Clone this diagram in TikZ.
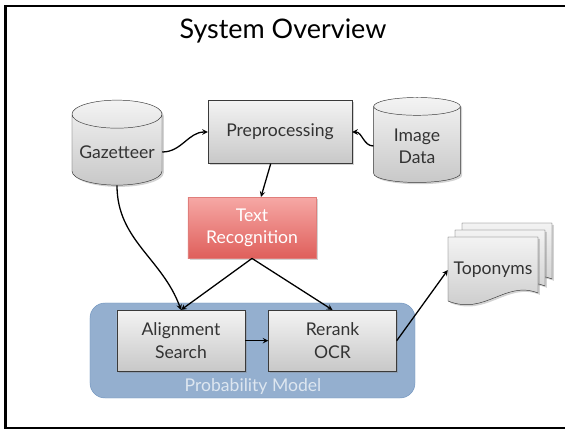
\documentclass[tikz,border=0pt]{standalone}
\usepackage{fontspec}
\setmainfont{Lato}
\usepackage{tikz}
\usetikzlibrary{positioning,shapes.geometric,shadows}
\definecolor{boxtop}{HTML}{F3F3F3}
\definecolor{boxbot}{HTML}{C8C8C8}
\definecolor{boxline}{HTML}{3A3A3A}
\definecolor{recogtop}{HTML}{F6A8A5}
\definecolor{recogbot}{HTML}{DF5F5B}
\definecolor{recogline}{HTML}{E07E7B}
\definecolor{modelfill}{HTML}{94AFCF}
\definecolor{modelline}{HTML}{7094BF}
\definecolor{modeltext}{HTML}{DDE6F0}
\definecolor{label}{HTML}{333333}

\begin{document}
\begin{tikzpicture}[
        x=0.03cm, y=-0.03cm,
        every node/.style={
            align=center,
            text=label,
            font=\fontsize{15}{19}\selectfont,
            inner sep=2pt,
            anchor=center
        },
        box/.style={
            rectangle,
            draw=boxline,
            thin,
            top color=boxtop,
            bottom color=boxbot,
            drop shadow={opacity=0.35, shadow xshift=1.5pt, shadow yshift=-1.5pt},
            minimum width=3.84cm,
            minimum height=1.83cm
        },
        drum/.style={
            box,
            cylinder,
            shape border rotate=90,
            aspect=0.35,
            minimum width=2.7cm,
            minimum height=2.55cm
        },
        recog/.style={
            draw=recogline,
            top color=recogtop,
            bottom color=recogbot,
            text=white
        },
        model/.style={
            rectangle,
            rounded corners=0.45cm,
            draw=modelline,
            fill=modelfill,
            minimum width=9.75cm,
            minimum height=2.85cm
        },
        docpage/.style={
            draw=boxline,
            thin,
            top color=boxtop,
            bottom color=boxbot,
            drop shadow={opacity=0.35, shadow xshift=1.5pt, shadow yshift=-1.5pt}
        },
        arrow/.style={
            ->,
            >=stealth,
            line width=1.1pt,
            color=black
        }
    ]
        \useasboundingbox (0,0) rectangle (565,429);
        \draw[line width=2pt] (565,6) -- (5.5,6) -- (5.5,428) -- (565,428);

        \node (title) at (283,31) [font=\fontsize{23}{27}\selectfont, text=black] {System Overview};

        % Top row
        \node (pre) at (280,132) [box, minimum width=4.32cm, minimum height=1.89cm] {Preprocessing};
        \node (gaz) [drum, left of=pre, node distance=4.89cm, yshift=-0.6cm] {Gazetteer};
        \node (img) [drum, right of=pre, node distance=4.11cm, yshift=-0.42cm, minimum width=2.6cm] {Image\\Data};

        % Recognition
        \node (rec) [box, recog, below of=pre, node distance=2.87cm, xshift=-0.84cm] {Text\\Recognition};

        % Probability model
        \node (model) at (252.5,350.5) [model] {};
        \node (modellbl) at (253,387) [text=modeltext] {Probability Model};
        \node (align) [box, below of=rec, node distance=3.39cm, xshift=-2.13cm] {Alignment\\Search};
        \node (rerank) [box, right of=align, node distance=4.545cm] {Rerank\\OCR};

        % Output pages
        \foreach \d in {14,7,0}
            \path[docpage] (448+\d,237-\d) -- (538+\d,237-\d) -- (538+\d,293-\d)
                .. controls (505+\d,280-\d) and (485+\d,316-\d) .. (448+\d,301-\d) -- cycle;
        \node (top) at (493,270) [minimum width=2.7cm] {Toponyms};

        % Edges
        \draw[arrow] (gaz.east) to[out=0, in=180] (pre.west);
        \draw[arrow] (img.west) to[out=180, in=0] (pre.east);
        \draw[arrow] (pre) -- (rec);
        \draw[arrow] (gaz.south) to[out=-90, in=110] (align.north);
        \draw[arrow] (rec.south) -- (align.north);
        \draw[arrow] (rec.south) -- (rerank.north);
        \draw[arrow] (align) -- (rerank);
        \draw[arrow] (rerank.east) -- (top.west);

    \end{tikzpicture}
\end{document}
